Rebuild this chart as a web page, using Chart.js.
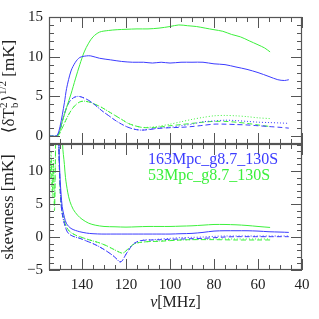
<!DOCTYPE html>
<html>
<head>
<meta charset="UTF-8">
<title>rms and skewness vs frequency</title>
<script src="https://cdn.jsdelivr.net/npm/chart.js"></script>
<style>
    body { margin: 0; background: #fff; }
    #wrap { position: relative; width: 319px; height: 319px; }
    #wrap canvas { position: absolute; left: 0; top: 0; }
</style>
</head>
<body>
<div id="wrap">
    <canvas id="rmsChart" width="319" height="319"></canvas>
    <canvas id="skewChart" width="319" height="319"></canvas>
</div>

<script>
    // ---- data (frequency in MHz) ----
    // top panel: rms <dTb^2>^(1/2) [mK]
    const nuBlueRms = [155, 151.5, 150, 148, 147, 145, 143, 141, 138, 136, 132, 127, 122, 117, 112, 108, 104, 100, 95, 90, 85, 80, 75, 70, 65, 60, 55, 51, 48, 46];
    const blueRms   = [0, 0.05, 1.2, 4.2, 6.0, 8.2, 9.3, 9.9, 10.1, 10.1, 9.8, 9.6, 9.4, 9.3, 9.3, 9.2, 9.3, 9.2, 9.3, 9.3, 9.3, 9.1, 9.0, 8.7, 8.4, 8.0, 7.5, 7.1, 7.0, 7.1];

    const nuGreenRms = [155, 151, 149, 147, 145, 143, 141, 139, 137, 135, 132, 128, 124, 120, 115, 110, 105, 100, 96, 92, 88, 84, 80, 76, 72, 68, 64, 60, 57, 54.5];
    const greenRms   = [0, 0.05, 1.8, 3.6, 5.3, 7.2, 9.0, 10.6, 11.7, 12.5, 13.1, 13.3, 13.4, 13.45, 13.5, 13.5, 13.6, 13.8, 14.0, 13.9, 13.8, 13.6, 13.4, 13.2, 12.8, 12.5, 12.0, 11.5, 11.1, 10.6];

    const nuBlueLow  = [155, 151.5, 150, 148, 146, 144, 142, 140, 137, 134, 131, 128, 125, 122, 119, 116, 113, 110, 106, 100, 95, 90, 85, 80, 75, 70, 65, 60, 55, 50, 46];
    const blueRmsDash = [0, 0.05, 0.8, 2.8, 4.2, 4.8, 5.0, 4.9, 4.5, 3.9, 3.2, 2.6, 2.0, 1.5, 1.1, 0.85, 0.75, 0.8, 0.95, 1.05, 1.1, 1.2, 1.35, 1.5, 1.5, 1.45, 1.4, 1.3, 1.2, 1.1, 1.0];
    const blueRmsDot  = [0, 0.05, 0.8, 2.8, 4.2, 4.8, 5.0, 4.9, 4.5, 3.9, 3.2, 2.6, 2.0, 1.5, 1.1, 0.85, 0.75, 0.85, 1.0, 1.1, 1.3, 1.5, 1.8, 1.9, 2.0, 1.95, 1.85, 1.75, 1.7, 1.65, 1.6];

    const nuGreenLow = [155, 151, 149, 147, 145, 143, 141, 139, 137, 134, 131, 128, 125, 122, 119, 116, 113, 110, 106, 100, 95, 90, 85, 80, 75, 70, 65, 60, 54.5];
    const greenRmsDash = [0, 0.05, 1.0, 2.2, 3.2, 3.9, 4.3, 4.4, 4.3, 4.0, 3.6, 3.1, 2.6, 2.1, 1.6, 1.3, 1.1, 1.05, 1.1, 1.3, 1.45, 1.6, 1.75, 1.85, 1.85, 1.75, 1.6, 1.4, 1.2];
    const greenRmsDot  = [0, 0.05, 1.0, 2.2, 3.2, 3.9, 4.3, 4.4, 4.3, 4.0, 3.6, 3.1, 2.6, 2.1, 1.6, 1.3, 1.1, 1.1, 1.2, 1.5, 1.8, 2.1, 2.35, 2.55, 2.6, 2.55, 2.45, 2.3, 2.2];

    // bottom panel: skewness [mK]
    const nuBlueSkew = [151, 150.5, 150, 149.5, 149, 148, 147, 145, 143, 141, 138, 135, 131, 127, 122, 117, 112, 108, 104, 100, 95, 90, 85, 80, 75, 70, 65, 60, 55, 50, 46];
    const blueSkew   = [40, 14.5, 9, 6.5, 4.6, 3.0, 2.0, 1.3, 1.0, 0.8, 0.6, 0.5, 0.45, 0.45, 0.45, 0.45, 0.45, 0.45, 0.45, 0.45, 0.5, 0.55, 0.7, 0.9, 0.95, 0.95, 0.95, 0.9, 0.8, 0.75, 0.7];

    const nuGreenSkew = [149.5, 148.8, 148, 147.5, 146.5, 145.5, 144, 142, 140, 137, 134, 130, 125, 120, 115, 110, 105, 100, 95, 90, 85, 80, 75, 70, 65, 60, 54.5];
    const greenSkew   = [40, 14, 11, 9, 6.8, 5.4, 4.2, 3.3, 2.7, 2.1, 1.8, 1.6, 1.55, 1.5, 1.55, 1.6, 1.6, 1.6, 1.65, 1.7, 1.8, 1.9, 1.9, 1.85, 1.75, 1.6, 1.45];

    const nuBlueSkewLow = [151, 150.5, 150, 149.5, 149, 148, 147, 146, 144, 141, 138, 135, 132, 129, 126, 124, 123, 122, 121, 120, 119, 118, 117, 116, 114, 112, 108, 104, 100, 95, 90, 85, 80, 75, 70, 65, 60, 55, 50, 46];
    const blueSkewDash = [40, 14, 8, 5.0, 3.5, 2.0, 1.0, 0.5, 0.1, -0.2, -0.6, -1.0, -1.5, -2.1, -2.8, -3.4, -3.75, -3.7, -3.2, -2.6, -2.1, -1.6, -1.2, -0.9, -0.6, -0.5, -0.45, -0.4, -0.35, -0.3, -0.25, -0.2, -0.1, 0.0, 0.05, 0.05, 0.05, 0.05, 0.05, 0.05];
    const blueSkewDot  = [40, 14, 8, 5.0, 3.5, 2.0, 1.0, 0.5, 0.1, -0.2, -0.6, -1.0, -1.5, -2.1, -2.8, -3.4, -3.75, -3.7, -3.2, -2.6, -2.1, -1.6, -1.2, -0.9, -0.6, -0.45, -0.4, -0.3, -0.2, -0.1, -0.05, 0.0, 0.1, 0.15, 0.15, 0.15, 0.15, 0.15, 0.15, 0.15];

    const nuGreenSkewLow = [155, 154.5, 154, 153.5, 153, 152.5, 152, 151.5, 151, 150.5, 150, 149.5, 149, 148, 147, 145.5, 143, 141, 138, 135, 132, 129, 126, 123, 121.5, 120, 118.5, 117, 115, 113, 110, 105, 100, 95, 90, 80, 70, 60, 54.5];
    const greenSkewDash = [14.5, 9, 12, 7, 11, 4, 14.5, 40, 40, 14, 7.5, 5.0, 3.8, 2.4, 1.5, 0.8, 0.3, 0.05, -0.3, -0.6, -0.9, -1.3, -1.8, -2.3, -2.45, -2.1, -1.6, -1.2, -0.9, -0.8, -0.7, -0.65, -0.55, -0.45, -0.4, -0.4, -0.45, -0.45, -0.45];
    const greenSkewDot  = [14.5, 10, 13, 6, 12, 5, 14.5, 40, 40, 14, 7.5, 5.0, 3.8, 2.4, 1.5, 0.8, 0.3, 0.05, -0.3, -0.6, -0.9, -1.3, -1.8, -2.3, -2.45, -2.1, -1.6, -1.2, -0.9, -0.8, -0.7, -0.6, -0.5, -0.45, -0.4, -0.3, -0.3, -0.3, -0.3];

    const seriesLabels = ['163Mpc_g8.7_130S', '53Mpc_g8.7_130S'];
    const xTickValues = [140, 120, 100, 80, 60, 40];
    const rmsTickValues = [0, 5, 10, 15];
    const skewTickValues = [-5, 0, 5, 10];

    const BLUE = 'rgb(60, 60, 255)';
    const GREEN = 'rgb(60, 240, 60)';
    const FRAME = '#555';
    const TEXT = '#222';
    const SERIF = '"Liberation Serif", "DejaVu Serif", serif';

    function pts(xs, ys) {
        return xs.map((x, i) => ({ x: x, y: ys[i] }));
    }

    function line(xs, ys, color, dash) {
        return {
            data: pts(xs, ys),
            borderColor: color,
            borderWidth: 1,
            borderDash: dash,
            pointRadius: 0,
            fill: false,
            tension: 0.3
        };
    }

    // draws the box and inward ticks on all four sides
    function drawFrame(chart, yMajor) {
        const ctx = chart.ctx;
        const a = chart.chartArea;
        const xs = chart.scales.x;
        const ys = chart.scales.y;
        ctx.save();
        ctx.strokeStyle = FRAME;
        ctx.lineWidth = 1.2;
        ctx.strokeRect(a.left + 0.5, a.top + 0.5, a.right - a.left - 1, a.bottom - a.top - 1);
        ctx.lineWidth = 1;
        ctx.beginPath();
        for (let v = 40; v <= 155; v += 5) {
            const px = Math.round(xs.getPixelForValue(v)) + 0.5;
            const len = v % 20 === 0 ? 11 : 5;
            ctx.moveTo(px, a.top); ctx.lineTo(px, a.top + len);
            ctx.moveTo(px, a.bottom); ctx.lineTo(px, a.bottom - len);
        }
        for (let v = Math.ceil(ys.min); v <= ys.max; v += 1) {
            const py = Math.round(ys.getPixelForValue(v)) + 0.5;
            const len = v % yMajor === 0 ? 11 : 5;
            ctx.moveTo(a.left, py); ctx.lineTo(a.left + len, py);
            ctx.moveTo(a.right, py); ctx.lineTo(a.right - len, py);
        }
        ctx.stroke();
        ctx.restore();
    }

    const tickFont = { family: SERIF, size: 15 };

    // ---------- top panel ----------
    new Chart(document.getElementById('rmsChart'), {
        type: 'line',
        data: {
            datasets: [
                line(nuBlueRms, blueRms, BLUE, []),
                line(nuGreenRms, greenRms, GREEN, []),
                line(nuBlueLow, blueRmsDash, BLUE, [5, 3]),
                line(nuBlueLow, blueRmsDot, BLUE, [1, 2]),
                line(nuGreenLow, greenRmsDash, GREEN, [5, 3]),
                line(nuGreenLow, greenRmsDot, GREEN, [1, 2])
            ]
        },
        options: {
            responsive: false,
            animation: false,
            events: [],
            layout: { padding: { top: 17, right: 17, bottom: 175, left: 0 } },
            plugins: { legend: { display: false }, tooltip: { enabled: false } },
            scales: {
                x: { type: 'linear', min: 40, max: 155, reverse: true, display: false },
                y: {
                    type: 'linear', min: -1, max: 15,
                    afterFit: s => { s.width = 49; },
                    afterBuildTicks: s => { s.ticks = rmsTickValues.map(v => ({ value: v })); },
                    grid: { display: false, drawTicks: false },
                    border: { display: false },
                    ticks: { padding: 6, color: TEXT, font: tickFont }
                }
            }
        },
        plugins: [{
            id: 'frameTop',
            afterDraw(chart) {
                drawFrame(chart, 5);
                // y title with sub/superscripts
                const ctx = chart.ctx;
                const a = chart.chartArea;
                ctx.save();
                ctx.translate(14, (a.top + a.bottom) / 2 + 6);
                ctx.rotate(-Math.PI / 2);
                ctx.fillStyle = TEXT;
                ctx.textBaseline = 'alphabetic';
                const big = '17px ' + SERIF;
                const small = '11px ' + SERIF;
                const parts = [
                    ['\u27E8\u03B4T', big, 0],
                    ['2', small, -7, 'b'],
                    ['\u27E9', big, 0],
                    ['1/2', small, -8],
                    [' [mK]', big, 0]
                ];
                let total = 0;
                parts.forEach(p => { ctx.font = p[1]; total += ctx.measureText(p[0]).width + (p[3] ? 1 : 0); });
                let x = -total / 2;
                parts.forEach(p => {
                    ctx.font = p[1];
                    ctx.fillText(p[0], x, p[2]);
                    if (p[3]) ctx.fillText(p[3], x, 4);
                    x += ctx.measureText(p[0]).width + (p[3] ? 1 : 0);
                });
                ctx.restore();
            }
        }]
    });

    // ---------- bottom panel ----------
    new Chart(document.getElementById('skewChart'), {
        type: 'line',
        data: {
            datasets: [
                line(nuBlueSkew, blueSkew, BLUE, []),
                line(nuGreenSkew, greenSkew, GREEN, []),
                line(nuBlueSkewLow, blueSkewDash, BLUE, [5, 3]),
                line(nuBlueSkewLow, blueSkewDot, BLUE, [1, 2]),
                line(nuGreenSkewLow, greenSkewDash, GREEN, [5, 3]),
                line(nuGreenSkewLow, greenSkewDot, GREEN, [1, 2])
            ]
        },
        options: {
            responsive: false,
            animation: false,
            events: [],
            layout: { padding: { top: 144, right: 17, bottom: 0, left: 0 } },
            plugins: { legend: { display: false }, tooltip: { enabled: false } },
            scales: {
                x: {
                    type: 'linear', min: 40, max: 155, reverse: true,
                    afterFit: s => { s.height = 49; },
                    afterBuildTicks: s => { s.ticks = xTickValues.map(v => ({ value: v })); },
                    grid: { display: false, drawTicks: false },
                    border: { display: false },
                    ticks: { padding: 6, color: TEXT, font: tickFont, maxRotation: 0, autoSkip: false }
                },
                y: {
                    type: 'linear', min: -5, max: 14.1,
                    afterFit: s => { s.width = 49; },
                    afterBuildTicks: s => { s.ticks = skewTickValues.map(v => ({ value: v })); },
                    grid: { display: false, drawTicks: false },
                    border: { display: false },
                    ticks: {
                        padding: 6, color: TEXT, font: tickFont,
                        callback: v => String(v).replace('-', '\u2212')
                    }
                }
            }
        },
        plugins: [{
            id: 'frameBottom',
            afterDraw(chart) {
                drawFrame(chart, 5);
                const ctx = chart.ctx;
                const a = chart.chartArea;
                ctx.save();
                ctx.fillStyle = TEXT;
                // x title
                ctx.textBaseline = 'middle';
                const nu = '\u03BD';
                ctx.font = 'italic 16px ' + SERIF;
                const w1 = ctx.measureText(nu).width;
                ctx.font = '16px ' + SERIF;
                const w2 = ctx.measureText('[MHz]').width;
                const x0 = (a.left + a.right) / 2 - (w1 + w2) / 2;
                ctx.font = 'italic 16px ' + SERIF;
                ctx.fillText(nu, x0, 303);
                ctx.font = '16px ' + SERIF;
                ctx.fillText('[MHz]', x0 + w1, 303);
                // y title
                ctx.save();
                ctx.translate(9, (a.top + a.bottom) / 2);
                ctx.rotate(-Math.PI / 2);
                ctx.textAlign = 'center';
                ctx.font = '17px ' + SERIF;
                ctx.fillText('skewness [mK]', 0, 0);
                ctx.restore();
                // series labels
                ctx.textAlign = 'left';
                ctx.font = '16px ' + SERIF;
                ctx.fillStyle = BLUE;
                ctx.fillText(seriesLabels[0], 148, 160);
                ctx.fillStyle = GREEN;
                ctx.fillText(seriesLabels[1], 148, 176);
                ctx.restore();
            }
        }]
    });
</script>
</body>
</html>
